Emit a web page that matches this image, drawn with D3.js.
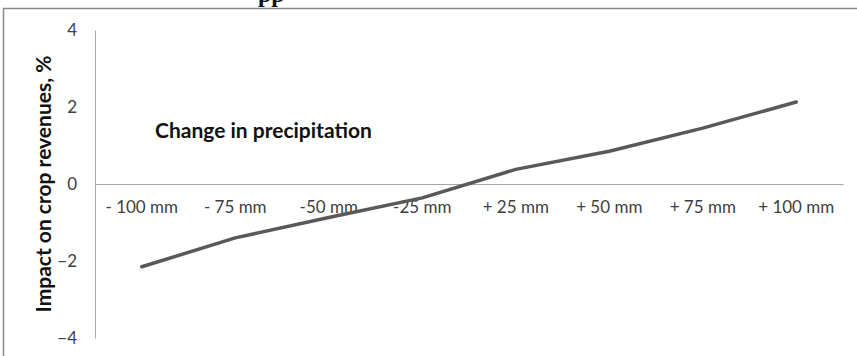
<!DOCTYPE html>
<html>
<head>
<meta charset="utf-8">
<script src="https://cdn.jsdelivr.net/npm/d3@7"></script>
<style>
  html, body { margin: 0; padding: 0; background: #fff; }
  svg { display: block; }
</style>
</head>
<body>
<svg id="chart" width="857" height="356"></svg>
<script>
// Precipitation scenarios and their estimated impact on crop revenues (%)
const categories = ["- 100 mm", "- 75 mm", "-50 mm", "-25 mm", "+ 25 mm", "+ 50 mm", "+ 75 mm", "+ 100 mm"];
const impact = [-2.15, -1.4, -0.87, -0.36, 0.38, 0.85, 1.45, 2.13];
const yTicks = [-4, -2, 0, 2, 4];
const yTitle = "Impact on crop revenues, %";
const seriesLabel = "Change in precipitation";

const svg = d3.select("#chart");
const font = "Lato, 'Open Sans', sans-serif";

const plot = { left: 95, right: 843, top: 30, bottom: 338 };

const x = d3.scaleBand().domain(categories).range([plot.left, plot.right]);
const y = d3.scaleLinear().domain([-4, 4]).range([plot.bottom, plot.top]);

// frame around the figure (top and left edges visible)
svg.append("path")
  .attr("d", `M3.5,356 V8.5 H857`)
  .attr("fill", "none")
  .attr("stroke", "#8a8a8a")
  .attr("stroke-width", 1.5);

// heading above the frame, largely outside the page
svg.append("text")
  .attr("x", 258).attr("y", 1.5)
  .attr("font-family", "'Liberation Serif', serif")
  .attr("font-weight", "bold")
  .attr("font-size", 24)
  .attr("fill", "#111")
  .text("pp");

// value axis
const yAxis = svg.append("g")
  .attr("transform", `translate(${plot.left},0)`)
  .call(d3.axisLeft(y).tickValues(yTicks).tickSize(0).tickPadding(18).tickFormat(d3.format("d")));
yAxis.select(".domain").attr("stroke", "#a6a6a6").attr("stroke-width", 1);
yAxis.selectAll("text")
  .attr("font-family", font)
  .attr("font-size", 17)
  .attr("fill", "#404040");

// category axis along zero
const xAxis = svg.append("g")
  .attr("transform", `translate(0,${y(0)})`)
  .call(d3.axisBottom(x).tickSize(0).tickPadding(17));
xAxis.select(".domain").attr("stroke", "#a6a6a6").attr("stroke-width", 1);
xAxis.selectAll("text")
  .attr("font-family", font)
  .attr("font-size", 17)
  .attr("fill", "#404040");

// axis title
svg.append("text")
  .attr("transform", `translate(51,${y(0)}) rotate(-90)`)
  .attr("text-anchor", "middle")
  .attr("font-family", font)
  .attr("font-weight", "bold")
  .attr("font-size", 21)
  .attr("fill", "#111")
  .text(yTitle);

// series label inside the plot
svg.append("text")
  .attr("x", 155).attr("y", 138)
  .attr("font-family", font)
  .attr("font-weight", "bold")
  .attr("font-size", 21)
  .attr("fill", "#111")
  .text(seriesLabel);

// impact line
const line = d3.line()
  .x((d, i) => x(categories[i]) + x.bandwidth() / 2)
  .y(d => y(d));

svg.append("path")
  .datum(impact)
  .attr("d", line)
  .attr("fill", "none")
  .attr("stroke", "#595959")
  .attr("stroke-width", 3.5)
  .attr("stroke-linecap", "round")
  .attr("stroke-linejoin", "round");
</script>
</body>
</html>
